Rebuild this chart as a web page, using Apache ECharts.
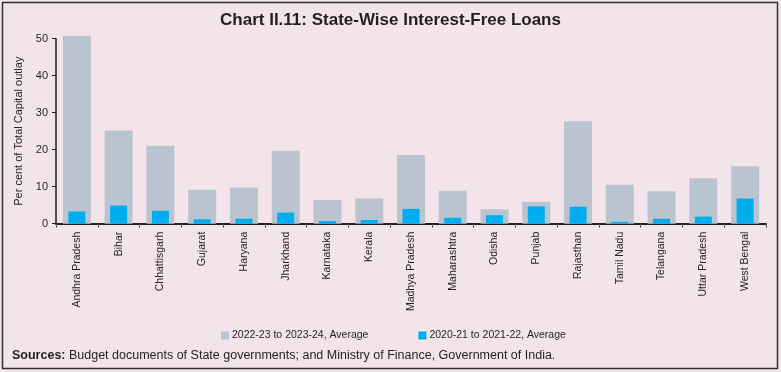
<!DOCTYPE html>
<html>
<head>
<meta charset="utf-8">
<script src="https://cdn.jsdelivr.net/npm/echarts@6/dist/echarts.min.js"></script>
<style>
html,body{margin:0;padding:0;background:#f2e4e9;}
#chart{width:781px;height:372px;}
</style>
</head>
<body>
<div id="chart"></div>
<script>
const categories = ['Andhra Pradesh','Bihar','Chhattisgarh','Gujarat','Haryana','Jharkhand','Karnataka','Kerala','Madhya Pradesh','Maharashtra','Odisha','Punjab','Rajasthan','Tamil Nadu','Telangana','Uttar Pradesh','West Bengal'];
const avg2223to2324 = [50.7, 25.2, 21.1, 9.2, 9.8, 19.7, 6.4, 6.8, 18.6, 8.9, 3.9, 5.9, 27.7, 10.5, 8.8, 12.3, 15.5];
const avg2021to2122 = [3.3, 4.9, 3.5, 1.2, 1.35, 3.0, 0.7, 1.0, 4.0, 1.6, 2.3, 4.7, 4.6, 0.5, 1.35, 1.9, 6.8];
const seriesNames = ['2022-23 to 2023-24, Average', '2020-21 to 2021-22, Average'];
const yTicks = [0, 10, 20, 30, 40, 50];

const font = '"Liberation Sans", Arial, Helvetica, sans-serif';
const chart = echarts.init(document.getElementById('chart'), null, {renderer: 'canvas'});
chart.setOption({
  backgroundColor: '#f2e4e9',
  animation: false,
  title: {
    text: 'Chart II.11: State-Wise Interest-Free Loans',
    left: 'center',
    top: 7,
    textStyle: {fontFamily: font, fontSize: 17, fontWeight: 'bold', color: '#231f20'}
  },
  legend: {
    data: seriesNames,
    left: 216,
    top: 325,
    itemWidth: 8,
    itemHeight: 8,
    itemGap: 50,
    icon: 'rect',
    textStyle: {fontFamily: font, fontSize: 10.5, color: '#231f20', padding: [0, 0, 0, -2]}
  },
  grid: {left: 56, right: 15, top: 38.7, bottom: 148.3, containLabel: false},
  xAxis: [{
    type: 'category',
    data: categories,
    axisLine: {show: true, lineStyle: {color: '#231f20', width: 2}},
    axisTick: {show: true, length: 4, lineStyle: {color: '#555', width: 1}},
    axisLabel: {interval: 0, rotate: 90, fontFamily: font, fontSize: 10.5, color: '#231f20', margin: 8}
  }, {
    type: 'category',
    data: categories,
    show: false
  }],
  yAxis: {
    type: 'value',
    min: yTicks[0],
    max: yTicks[yTicks.length - 1],
    interval: 10,
    name: 'Per cent of Total Capital outlay',
    nameLocation: 'middle',
    nameRotate: 90,
    nameGap: 32,
    nameTextStyle: {fontFamily: font, fontSize: 11, color: '#231f20'},
    axisLine: {show: true, lineStyle: {color: '#231f20', width: 1.5}},
    axisTick: {show: true, length: 4, lineStyle: {color: '#231f20'}},
    axisLabel: {fontFamily: font, fontSize: 11, color: '#231f20', margin: 8},
    splitLine: {show: false}
  },
  series: [{
    name: seriesNames[0],
    type: 'bar',
    xAxisIndex: 0,
    data: avg2223to2324,
    barWidth: 28,
    clip: false,
    itemStyle: {color: '#bac4d1'},
    z: 2
  }, {
    name: seriesNames[1],
    type: 'bar',
    xAxisIndex: 1,
    data: avg2021to2122,
    barWidth: 17,
    clip: false,
    itemStyle: {color: '#00adef'},
    z: 3
  }],
  graphic: [{
    type: 'rect',
    shape: {x: 2.5, y: 2.5, width: 775, height: 366},
    style: {fill: 'none', stroke: '#333', lineWidth: 1.5},
    silent: true
  }, {
    type: 'text',
    left: 12,
    top: 349,
    style: {
      text: '{b|Sources:} Budget documents of State governments; and Ministry of Finance, Government of India.',
      rich: {b: {fontWeight: 'bold', fontFamily: font, fontSize: 12.5, fill: '#231f20'}},
      font: '12.5px ' + font,
      fill: '#231f20'
    }
  }]
});
</script>
</body>
</html>
